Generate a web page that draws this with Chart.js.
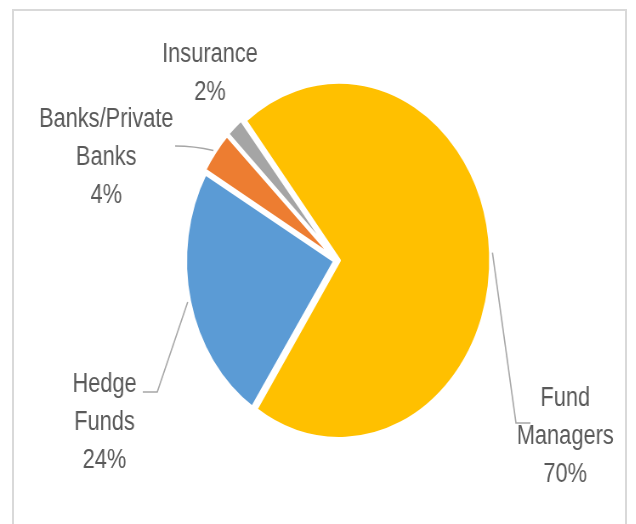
<!DOCTYPE html>
<html>
<head>
<meta charset="utf-8">
<script src="https://cdn.jsdelivr.net/npm/chart.js@4.4.1/dist/chart.umd.min.js"></script>
<style>
  html, body { margin: 0; padding: 0; background: #fff; overflow: hidden; }
  body { width: 636px; height: 524px; position: relative; }
  /* outer chart frame, runs off the bottom edge */
  .frame {
    position: absolute; left: 12px; top: 9px; width: 615px; height: 600px;
    box-sizing: border-box; border: 2px solid #d9d9d9; border-bottom: none;
  }
  /* chart is drawn wide, then squeezed horizontally */
  .wrap {
    position: absolute; left: 0; top: 0; width: 748px; height: 524px;
    transform: scaleX(0.85); transform-origin: 0 0;
  }
</style>
</head>
<body>
<div class="frame"></div>
<div class="wrap"><canvas id="pie" width="748" height="524"></canvas></div>
<script>
// ── Data ──────────────────────────────────────────────────────────────────────
const categories = ["Fund Managers", "Hedge Funds", "Banks/Private Banks", "Insurance"];
const shares     = [70, 24, 4, 2];
const colors     = ["#FFC000", "#5B9BD5", "#ED7D31", "#A5A5A5"];

// ── Label layout (canvas px, before the horizontal squeeze) ──────────────────
const LINE_H = 38;
const TEXT_SQUEEZE = 0.95;   // narrow-font look
const labelLayout = [
  { lines: ["Fund", "Managers"],       x: 665, y: 406, leader: [[607, 423], [624, 423]] },
  { lines: ["Hedge", "Funds"],         x: 123, y: 392, leader: [[185, 392], [168, 392]] },
  { lines: ["Banks/Private", "Banks"], x: 125, y: 127, leader: [[206, 146]], curve: true },
  { lines: ["Insurance"],              x: 247, y: 62,  leader: null },
];

const $ = id => document.getElementById(id);

// ── Data labels with leader lines ────────────────────────────────────────────
const pieLabels = {
  id: "pieLabels",
  afterDatasetsDraw(chart) {
    const ctx   = chart.ctx;
    const meta  = chart.getDatasetMeta(0);
    const total = shares.reduce((a, b) => a + b, 0);

    ctx.save();
    ctx.strokeStyle = "#A6A6A6";
    ctx.lineWidth = 1.6;
    ctx.lineJoin = "miter";

    meta.data.forEach((arc, i) => {
      const lay = labelLayout[i];
      const { x, y, startAngle, endAngle, outerRadius, circumference } =
        arc.getProps(["x", "y", "startAngle", "endAngle", "outerRadius", "circumference"], true);
      const mid = (startAngle + endAngle) / 2;

      // same shift that ArcElement applies for `offset`
      const off = (arc.options.offset || 0) / 4;
      const fix = 1 - Math.sin(Math.min(Math.PI, circumference || 0));
      const shift = off + off * fix;
      const cx = x + Math.cos(mid) * shift;
      const cy = y + Math.sin(mid) * shift;

      if (lay.leader) {
        const r  = outerRadius + 2;
        const sx = cx + Math.cos(mid) * r;
        const sy = cy + Math.sin(mid) * r;
        ctx.beginPath();
        ctx.moveTo(sx, sy);
        if (lay.curve) {
          const [ex, ey] = lay.leader[0];
          ctx.quadraticCurveTo((sx + ex) / 2, ey, ex, ey);
        } else {
          lay.leader.forEach(([px, py]) => ctx.lineTo(px, py));
        }
        ctx.stroke();
      }

      const pct = Math.round(shares[i] / total * 100) + "%";
      ctx.save();
      ctx.translate(lay.x, 0);
      ctx.scale(TEXT_SQUEEZE, 1);
      ctx.fillStyle = "#595959";
      ctx.font = '27px "Liberation Sans", Arial, sans-serif';
      ctx.textAlign = "center";
      ctx.textBaseline = "alphabetic";
      lay.lines.concat([pct]).forEach((t, k) => {
        ctx.fillText(t, 0, lay.y + k * LINE_H);
      });
      ctx.restore();
    });
    ctx.restore();
  }
};

// ── Chart ─────────────────────────────────────────────────────────────────────
new Chart($("pie").getContext("2d"), {
  type: "pie",
  data: {
    labels: categories,
    datasets: [{
      data: shares,
      backgroundColor: colors,
      borderColor: "#ffffff",
      borderWidth: 4,
      borderJoinStyle: "round",
      offset: 10,
    }],
  },
  options: {
    responsive: false,
    animation: false,
    events: [],
    rotation: -38.5,
    radius: 176,
    layout: { padding: { left: 45, right: 0, top: 0, bottom: 3 } },
    plugins: {
      legend: { display: false },
      tooltip: { enabled: false },
    },
  },
  plugins: [pieLabels],
});
</script>
</body>
</html>
